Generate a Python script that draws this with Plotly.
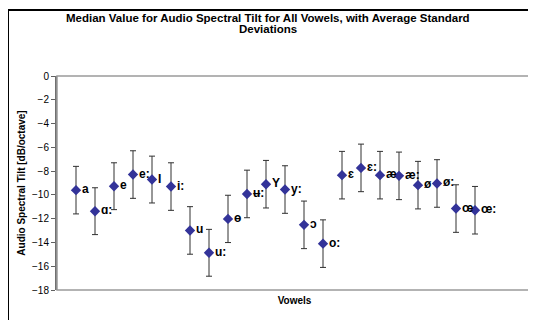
import plotly.graph_objects as go

vowels = ["a", "ɑ:", "e", "e:", "I", "i:", "u", "u:", "ɵ", "ʉ:", "Y", "y:",
          "ɔ", "o:", "ɛ", "ɛ:", "æ", "æ:", "ø", "ø:", "œ", "œ:"]
positions = list(range(1, 23))
median_tilt = [-9.60, -11.37, -9.27, -8.29, -8.71, -9.30, -12.99, -14.87, -12.02, -9.92, -9.10, -9.55,
               -12.52, -14.10, -8.34, -7.73, -8.34, -8.40, -9.18, -9.04, -11.15, -11.29]
avg_std = [2.00, 1.97, 1.97, 2.00, 1.97, 2.00, 2.00, 1.97, 1.99, 2.00, 2.00, 2.00,
           2.00, 2.00, 2.00, 2.00, 2.00, 2.00, 2.00, 2.00, 2.00, 2.00]
y_ticks = list(range(-18, 1, 2))
title_lines = ["Median Value for Audio Spectral Tilt for All Vowels, with Average Standard",
               "Deviations"]

FONT = "Liberation Sans, Arial, sans-serif"

# page has an 8px body margin; figure coordinates are page coordinates minus 8
W, H = 528, 312
L, R, T, B = 49, 4, 68, 30
pw, ph = W - L - R, H - T - B

def px_x(p):
    return (p - L) / pw

def px_y(p):
    return (H - B - p) / ph

fig = go.Figure()
fig.add_trace(go.Scatter(
    x=positions, y=median_tilt,
    mode="markers+text",
    text=vowels,
    textposition="middle right",
    textfont=dict(family=FONT, size=12, color="black", weight="bold"),
    marker=dict(symbol="diamond", size=8, color="#333399"),
    error_y=dict(type="data", array=avg_std, visible=True,
                 color="#303030", thickness=1, width=3),
    hoverinfo="skip",
    cliponaxis=False,
))

annotations = []
for line, cy in zip(title_lines, [10, 21]):
    annotations.append(dict(
        text=line, xref="paper", yref="paper",
        x=px_x(260), y=px_y(cy), xanchor="center", yanchor="middle",
        showarrow=False,
        font=dict(family=FONT, size=11.5, color="black", weight="bold"),
    ))

fig.update_layout(
    width=W, height=H,
    margin=dict(l=L, r=R, t=T, b=B),
    paper_bgcolor="white", plot_bgcolor="white",
    showlegend=False,
    font=dict(family=FONT, color="black"),
    annotations=annotations,
    xaxis=dict(
        range=[0, 25], showticklabels=False, ticks="", showgrid=False,
        zeroline=False, showline=False,
        title=dict(text="Vowels", font=dict(family=FONT, size=10, weight="bold"), standoff=6),
    ),
    yaxis=dict(
        range=[-18, 0], tickvals=y_ticks, ticks="outside", ticklen=4,
        tickcolor="#606060", tickwidth=1,
        tickfont=dict(family=FONT, size=10, color="black"),
        showgrid=False, zeroline=False,
        showline=True, linecolor="#707070", linewidth=2,
        title=dict(text="Audio Spectral Tilt [dB/octave]",
                   font=dict(family=FONT, size=10, weight="bold"), standoff=5),
    ),
    shapes=[
        dict(type="rect", xref="paper", yref="paper", x0=0, y0=0, x1=1, y1=1,
             line=dict(color="#9a9a9a", width=1.5), layer="above"),
        dict(type="line", xref="paper", yref="paper",
             x0=px_x(0), y0=px_y(2), x1=px_x(560), y1=px_y(2),
             line=dict(color="black", width=2)),
        dict(type="line", xref="paper", yref="paper",
             x0=px_x(0), y0=px_y(2), x1=px_x(0), y1=px_y(340),
             line=dict(color="black", width=2)),
    ],
)

fig.write_html("out.html")
